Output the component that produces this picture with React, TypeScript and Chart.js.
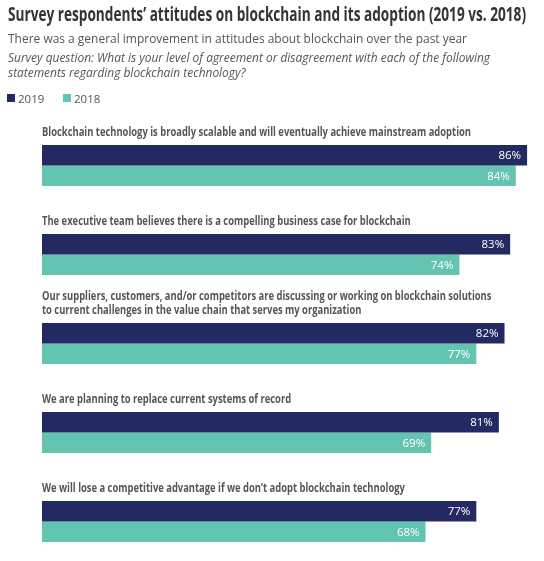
import React, { useEffect, useRef } from "react";
import { Chart, registerables } from "chart.js";

Chart.register(...registerables);

const titleText = "Survey respondents’ attitudes on blockchain and its adoption (2019 vs. 2018)";
const subtitleText = "There was a general improvement in attitudes about blockchain over the past year";
const questionLines = [
  "Survey question: What is your level of agreement or disagreement with each of the following",
  "statements regarding blockchain technology?",
];
const categories = [
  ["Blockchain technology is broadly scalable and will eventually achieve mainstream adoption"],
  ["The executive team believes there is a compelling business case for blockchain"],
  [
    "Our suppliers, customers, and/or competitors are discussing or working on blockchain solutions",
    "to current challenges in the value chain that serves my organization",
  ],
  ["We are planning to replace current systems of record"],
  ["We will lose a competitive advantage if we don’t adopt blockchain technology"],
];
const seriesNames = ["2019", "2018"];
const values2019 = [86, 83, 82, 81, 77];
const values2018 = [84, 74, 77, 69, 68];

const NAVY = "#232a62";
const TEAL = "#63c4b2";
const FONT = "'Open Sans', 'Noto Sans', sans-serif";

function drawScaled(ctx: CanvasRenderingContext2D, text: string, x: number, y: number, sx: number) {
  ctx.save();
  ctx.translate(x, y);
  ctx.scale(sx, 1);
  ctx.fillText(text, 0, 0);
  ctx.restore();
}

function fitFactor(ctx: CanvasRenderingContext2D, text: string, font: string, width: number) {
  ctx.font = font;
  const w = ctx.measureText(text).width;
  return w > 0 ? width / w : 1;
}

const annotationsPlugin = {
  id: "annotations",
  afterDraw(chart: any) {
    const ctx: CanvasRenderingContext2D = chart.ctx;
    ctx.save();
    ctx.textAlign = "left";
    ctx.textBaseline = "alphabetic";

    // Title
    const tFont = `bold 19.5px ${FONT}`;
    const tf = fitFactor(ctx, titleText, tFont, 518);
    ctx.fillStyle = "#333333";
    ctx.font = tFont;
    drawScaled(ctx, titleText, 8, 21, tf);

    // Subtitle
    const sFont = `13px ${FONT}`;
    const sf = fitFactor(ctx, subtitleText, sFont, 459);
    ctx.fillStyle = "#555555";
    ctx.font = sFont;
    drawScaled(ctx, subtitleText, 8, 43, sf);

    // Question (italic)
    const qFont = `italic 13px ${FONT}`;
    const qf = fitFactor(ctx, questionLines[0], qFont, 482);
    ctx.font = qFont;
    questionLines.forEach((line, i) => drawScaled(ctx, line, 8, 62 + i * 15, qf));

    // Legend
    const lFont = `11.5px ${FONT}`;
    ctx.font = lFont;
    const legendX = [7, 63];
    const colors = [NAVY, TEAL];
    seriesNames.forEach((name, i) => {
      ctx.fillStyle = colors[i];
      ctx.fillRect(legendX[i], 94, 8, 8);
      ctx.fillStyle = "#555555";
      ctx.fillText(name, legendX[i] + 11, 102.5);
    });

    // Category labels above each bar pair
    const cFont = `bold 12px ${FONT}`;
    const cf = fitFactor(ctx, categories[0][0], cFont, 429);
    ctx.font = cFont;
    ctx.fillStyle = "#55565a";
    const meta0 = chart.getDatasetMeta(0);
    const left = chart.chartArea.left;
    categories.forEach((lines, i) => {
      const el = meta0.data[i];
      const top = el.y - el.height / 2;
      const n = lines.length;
      lines.forEach((line, j) => {
        const baseline = top - 9.5 - (n - 1 - j) * 13.5;
        drawScaled(ctx, line, left, baseline, cf);
      });
    });

    // Value labels inside bars
    ctx.font = `11.5px ${FONT}`;
    ctx.fillStyle = "#ffffff";
    ctx.textAlign = "right";
    ctx.textBaseline = "middle";
    chart.data.datasets.forEach((ds: any, di: number) => {
      const meta = chart.getDatasetMeta(di);
      meta.data.forEach((el: any, k: number) => {
        ctx.fillText(`${ds.data[k]}%`, el.x - 6, el.y + 0.5);
      });
    });
    ctx.restore();
  },
};

export default function App() {
  const canvasRef = useRef<HTMLCanvasElement | null>(null);

  useEffect(() => {
    const canvas = canvasRef.current;
    if (!canvas) return;
    const chart = new Chart(canvas, {
      type: "bar",
      data: {
        labels: categories,
        datasets: [
          {
            label: seriesNames[0],
            data: values2019,
            backgroundColor: NAVY,
            borderWidth: 0,
            categoryPercentage: 41 / 89,
            barPercentage: 1,
          },
          {
            label: seriesNames[1],
            data: values2018,
            backgroundColor: TEAL,
            borderWidth: 0,
            categoryPercentage: 41 / 89,
            barPercentage: 1,
          },
        ],
      },
      options: {
        indexAxis: "y",
        responsive: false,
        maintainAspectRatio: false,
        animation: false,
        layout: { padding: { left: 42, right: 0, top: 121, bottom: 0 } },
        scales: {
          x: { min: 0, max: 89, display: false },
          y: { display: false },
        },
        plugins: {
          legend: { display: false },
          tooltip: { enabled: false },
          title: { display: false },
        },
        events: [],
      },
      plugins: [annotationsPlugin],
    });
    return () => chart.destroy();
  }, []);

  return (
    <div
      style={{
        position: "fixed",
        left: 0,
        top: 0,
        width: 544,
        height: 561,
        overflow: "hidden",
        background: "#ffffff",
      }}
    >
      <canvas ref={canvasRef} width={544} height={566} style={{ display: "block" }} />
    </div>
  );
}
